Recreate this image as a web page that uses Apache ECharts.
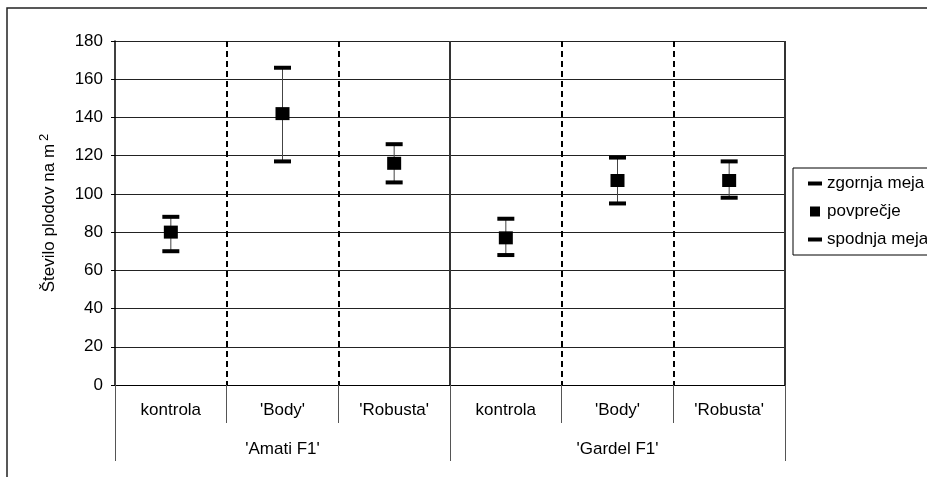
<!DOCTYPE html>
<html lang="sl">
<head>
    <meta charset="UTF-8">
    <title>Število plodov</title>
</head>
<body style="margin:0">
<div id="main" style="width: 927px;height:477px;"></div>
<script src="https://cdn.jsdelivr.net/npm/echarts@6/dist/echarts.min.js"></script>
<script>
    // podatki
    var sorte = ["'Amati F1'", "'Gardel F1'"];
    var obravnavanja = ['kontrola', "'Body'", "'Robusta'", 'kontrola', "'Body'", "'Robusta'"];
    var zgornja = [88, 166, 126, 87, 119, 117];
    var povprecje = [80, 142, 116, 77, 107, 107];
    var spodnja = [70, 117, 106, 68, 95, 98];
    var yTicks = {min: 0, max: 180, interval: 20};

    var font = 'Liberation Sans, Arial, sans-serif';
    var dashIcon = 'path://M0,0M0,4h14v4h-14zM14,12';
    var squareIcon = 'path://M0,0M2,1h10v10h-10zM14,12';

    var myChart = echarts.init(document.getElementById('main'));

    var whiskers = obravnavanja.map(function (c, i) {
        return [i, spodnja[i], zgornja[i]];
    });

    myChart.setOption({
        animation: false,
        textStyle: {fontFamily: font, color: '#000'},
        graphic: [{
            type: 'rect',
            shape: {x: 7, y: 8, width: 1000, height: 1000},
            style: {fill: 'none', stroke: '#222', lineWidth: 1.5},
            silent: true
        }],
        grid: {left: 115, top: 41, right: 142, bottom: 92},
        legend: {
            orient: 'vertical',
            left: 793,
            top: 168,
            itemWidth: 14,
            itemHeight: 12,
            itemGap: 11,
            padding: [7, 40, 7, 15],
            borderColor: '#000',
            borderWidth: 1,
            textStyle: {fontSize: 17, fontFamily: font, color: '#000'},
            data: [
                {name: 'zgornja meja', icon: dashIcon},
                {name: 'povprečje', icon: squareIcon},
                {name: 'spodnja meja', icon: dashIcon}
            ]
        },
        xAxis: [{
            type: 'category',
            data: obravnavanja,
            boundaryGap: true,
            axisLine: {lineStyle: {color: '#000', width: 1}},
            axisTick: {show: true, length: 38, lineStyle: {color: '#555', width: 1}},
            axisLabel: {fontSize: 17, margin: 17, color: '#000', interval: 0},
            splitLine: {
                show: true, showMinLine: false, showMaxLine: false,
                lineStyle: {color: '#000', width: 2, type: [6, 4]}
            }
        }, {
            type: 'category',
            data: sorte,
            position: 'bottom',
            boundaryGap: true,
            axisLine: {show: false},
            axisTick: {show: true, length: 76, lineStyle: {color: '#555', width: 1}},
            axisLabel: {fontSize: 17, margin: 56, color: '#000'},
            splitLine: {
                show: true, showMinLine: false,
                lineStyle: {color: '#333', width: 2}
            }
        }],
        yAxis: {
            type: 'value',
            min: yTicks.min,
            max: yTicks.max,
            interval: yTicks.interval,
            name: 'Število plodov na m{sup|2}',
            nameLocation: 'middle',
            nameGap: 54,
            nameTextStyle: {
                fontSize: 17, color: '#000',
                rich: {sup: {fontSize: 13, padding: [0, 0, 10, 3]}}
            },
            axisLine: {show: true, lineStyle: {color: '#000', width: 1.5}},
            axisTick: {show: true, length: 4, lineStyle: {color: '#000'}},
            axisLabel: {fontSize: 17, margin: 12, color: '#000'},
            splitLine: {lineStyle: {color: '#222', width: 1}}
        },
        series: [{
            type: 'custom',
            name: 'razpon',
            data: whiskers,
            encode: {x: 0, y: [1, 2]},
            z: 1,
            renderItem: function (params, api) {
                var a = api.coord([api.value(0), api.value(1)]);
                var b = api.coord([api.value(0), api.value(2)]);
                return {
                    type: 'line',
                    shape: {x1: a[0], y1: a[1], x2: b[0], y2: b[1]},
                    style: {stroke: '#444', lineWidth: 1}
                };
            }
        }, {
            type: 'scatter',
            name: 'zgornja meja',
            data: zgornja,
            symbol: 'rect',
            symbolSize: [17, 4],
            itemStyle: {color: '#000', opacity: 1},
            z: 3
        }, {
            type: 'scatter',
            name: 'povprečje',
            data: povprecje,
            symbol: 'rect',
            symbolSize: [14, 13],
            itemStyle: {color: '#000', opacity: 1},
            z: 3
        }, {
            type: 'scatter',
            name: 'spodnja meja',
            data: spodnja,
            symbol: 'rect',
            symbolSize: [17, 4],
            itemStyle: {color: '#000', opacity: 1},
            z: 3
        }]
    });
</script>
</body>
</html>
